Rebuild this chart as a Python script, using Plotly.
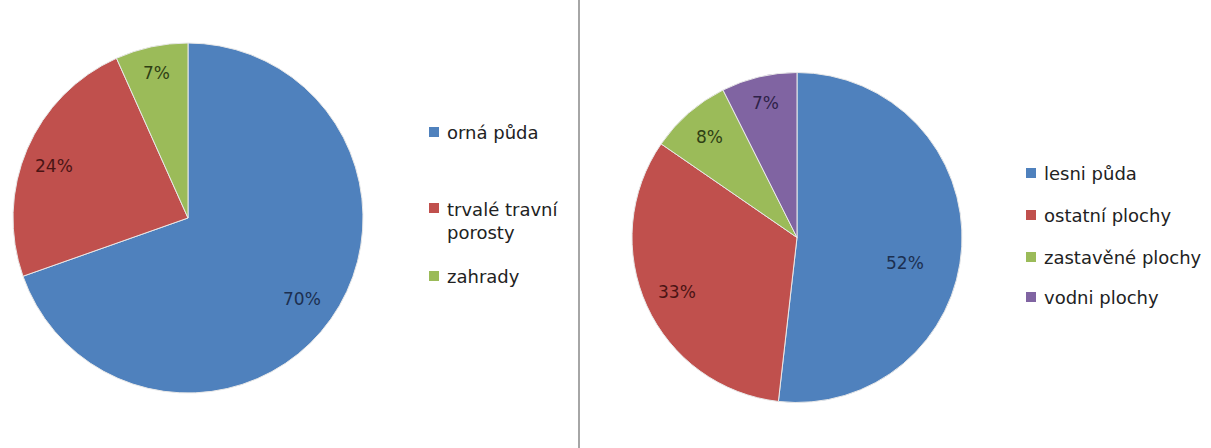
import math
import plotly.graph_objects as go

# ---------------- data ----------------
left_labels = ["orná půda", "trvalé travní porosty", "zahrady"]
left_values = [69.6, 23.7, 6.7]
right_labels = ["lesni půda", "ostatní plochy", "zastavěné plochy", "vodni plochy"]
right_values = [51.8, 32.8, 8.0, 7.4]

# ---------------- styles / layout ----------------
W, H = 1211, 448
slice_colors = ["#4F81BD", "#C0504D", "#9BBB59", "#8064A2"]
text_colors = ["#1c2f50", "#4a1414", "#2f3f14", "#2e2248"]
FONT = "DejaVu Sans"

left_pie = dict(cx=188, cy=218, r=175)
right_pie = dict(cx=797, cy=237.5, r=165)
left_label_r = [0.80, 0.82, 0.85]
left_label_dt = [0, -2, 0]
right_label_r = [0.67, 0.80, 0.81, 0.84]
right_label_dt = [10, 0, 0, 0]

left_legend_text = ["orná půda", "trvalé travní<br>porosty", "zahrady"]
left_legend_y = [132, 208, 276]
left_legend_ty = [132, 221, 276]
left_legend_x = 429
right_legend_y = [173, 215, 257, 297]
right_legend_x = 1026
marker = 10


def domain(p):
    return dict(
        x=[(p["cx"] - p["r"]) / W, (p["cx"] + p["r"]) / W],
        y=[1 - (p["cy"] + p["r"]) / H, 1 - (p["cy"] - p["r"]) / H],
    )


fig = go.Figure()
fig.add_trace(go.Pie(
    labels=left_labels, values=left_values, sort=False, direction="clockwise",
    rotation=0, domain=domain(left_pie), textinfo="none", hoverinfo="label+percent",
    marker=dict(colors=slice_colors[:3], line=dict(color="#e8e8e8", width=1)),
    showlegend=False,
))
fig.add_trace(go.Pie(
    labels=right_labels, values=right_values, sort=False, direction="clockwise",
    rotation=0, domain=domain(right_pie), textinfo="none", hoverinfo="label+percent",
    marker=dict(colors=slice_colors[:4], line=dict(color="#e8e8e8", width=1)),
    showlegend=False,
))

annotations = []
shapes = []


def add_pct_labels(p, values, rfs, dts):
    total = sum(values)
    cum = 0.0
    for i, v in enumerate(values):
        mid = (cum + v / 2) / total * 360 + dts[i]
        cum += v
        rr = rfs[i] * p["r"]
        x = p["cx"] + rr * math.sin(math.radians(mid))
        y = p["cy"] - rr * math.cos(math.radians(mid))
        annotations.append(dict(
            x=x / W, y=1 - y / H, xref="paper", yref="paper",
            text=f"{round(v / total * 100)}%", showarrow=False,
            font=dict(family=FONT, size=17, color=text_colors[i]),
            xanchor="center", yanchor="middle",
        ))


add_pct_labels(left_pie, left_values, left_label_r, left_label_dt)
add_pct_labels(right_pie, right_values, right_label_r, right_label_dt)


def add_legend(texts, ys, tys, x0):
    for i, t in enumerate(texts):
        y = ys[i]
        shapes.append(dict(
            type="rect", xref="paper", yref="paper",
            x0=x0 / W, x1=(x0 + marker) / W,
            y0=1 - (y + marker / 2) / H, y1=1 - (y - marker / 2) / H,
            fillcolor=slice_colors[i], line=dict(width=0),
        ))
        annotations.append(dict(
            x=(x0 + marker + 6) / W, y=1 - tys[i] / H, xref="paper", yref="paper",
            text=t, showarrow=False, align="left",
            font=dict(family=FONT, size=18, color="#222222"),
            xanchor="left", yanchor="middle",
        ))


add_legend(left_legend_text, left_legend_y, left_legend_ty, left_legend_x)
add_legend(right_labels, right_legend_y, right_legend_y, right_legend_x)

shapes.append(dict(type="line", xref="paper", yref="paper",
                   x0=579 / W, x1=579 / W, y0=0, y1=1,
                   line=dict(color="#a6a6a6", width=2)))

fig.update_layout(
    width=W, height=H, margin=dict(l=0, r=0, t=0, b=0),
    paper_bgcolor="white", plot_bgcolor="white",
    annotations=annotations, shapes=shapes,
)
fig.write_html("out.html", config={"displayModeBar": False},
               post_script="document.body.style.margin='0px';")
